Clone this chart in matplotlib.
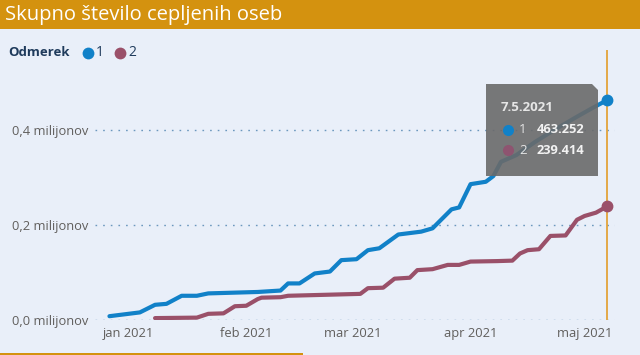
import matplotlib
matplotlib.use('Agg')
import matplotlib.pyplot as plt
import matplotlib.patches as mpatches
from matplotlib.lines import Line2D
import pandas as pd

plt.rcParams['font.family'] = ['Open Sans', 'DejaVu Sans']

# ---- data ----
dose1_dates = ['2020-12-27', '2021-01-04', '2021-01-08', '2021-01-11', '2021-01-15', '2021-01-19',
               '2021-01-22', '2021-02-04', '2021-02-10', '2021-02-12', '2021-02-15', '2021-02-19',
               '2021-02-23', '2021-02-26', '2021-03-02', '2021-03-05', '2021-03-08', '2021-03-13',
               '2021-03-16', '2021-03-19', '2021-03-22', '2021-03-27', '2021-03-29', '2021-04-01',
               '2021-04-05', '2021-04-07', '2021-04-09', '2021-04-13', '2021-04-18', '2021-04-23',
               '2021-04-26', '2021-04-29', '2021-05-03', '2021-05-07']
dose1_vals = [0.008, 0.016, 0.032, 0.034, 0.051, 0.051,
              0.056, 0.059, 0.062, 0.077, 0.077, 0.098,
              0.102, 0.126, 0.128, 0.147, 0.151, 0.180,
              0.183, 0.186, 0.193, 0.233, 0.237, 0.286,
              0.291, 0.303, 0.333, 0.347, 0.375, 0.400,
              0.414, 0.428, 0.446, 0.463252]

dose2_dates = ['2021-01-08', '2021-01-19', '2021-01-22', '2021-01-26', '2021-01-29', '2021-02-01',
               '2021-02-04', '2021-02-05', '2021-02-10', '2021-02-12', '2021-03-03', '2021-03-05',
               '2021-03-09', '2021-03-12', '2021-03-16', '2021-03-18', '2021-03-22', '2021-03-26',
               '2021-03-29', '2021-04-01', '2021-04-08', '2021-04-12', '2021-04-14', '2021-04-16',
               '2021-04-19', '2021-04-22', '2021-04-26', '2021-04-29', '2021-05-01', '2021-05-04',
               '2021-05-07']
dose2_vals = [0.004, 0.005, 0.013, 0.014, 0.029, 0.030,
              0.044, 0.047, 0.048, 0.051, 0.055, 0.067,
              0.068, 0.087, 0.089, 0.105, 0.107, 0.116,
              0.116, 0.123, 0.124, 0.125, 0.140, 0.147,
              0.149, 0.177, 0.178, 0.211, 0.219, 0.226,
              0.239414]

month_ticks = ['2021-01-01', '2021-02-01', '2021-03-01', '2021-04-01', '2021-05-01']
month_labels = ['jan 2021', 'feb 2021', 'mar 2021', 'apr 2021', 'maj 2021']
y_ticks = [0.0, 0.2, 0.4]
y_labels = ['0,0 milijonov', '0,2 milijonov', '0,4 milijonov']

tip_date = '7.5.2021'
tip_rows = [('1', '463.252'), ('2', '239.414')]

# ---- colours ----
bg = '#E9EFF9'
orange = '#D4920F'
blue = '#1181C8'
red = '#9A5069'
grid_c = '#6C98BE'
label_c = '#605E5C'
navy = '#1F3B5C'

W, H = 640, 355


def px(x, y):
    # pixel (from top-left) -> figure fraction
    return x / W, 1 - y / H


def dot(x, y, color, size, z=3):
    fx, fy = px(x, y)
    fig.add_artist(Line2D([fx], [fy], marker='o', markersize=size, color=color,
                          markeredgewidth=0, linestyle='none',
                          transform=fig.transFigure, zorder=z))


fig = plt.figure(figsize=(6.4, 3.55), dpi=100, facecolor=bg)

# title bar
fig.patches.append(mpatches.Rectangle(px(0, 29), 1, 29 / H, transform=fig.transFigure,
                                      facecolor=orange, edgecolor='none', zorder=0))
fig.text(*px(5, 15), 'Skupno število cepljenih oseb', color='white', fontsize=14.5,
         va='center', ha='left')
# bottom accent
fig.patches.append(mpatches.Rectangle(px(0, 355), 303 / W, 2.5 / H, transform=fig.transFigure,
                                      facecolor=orange, edgecolor='none'))

# legend
fig.text(*px(8, 53), 'Odmerek', color=navy, fontsize=9.5, fontweight='bold', va='center')
dot(88, 53, blue, 8.5)
fig.text(*px(96, 53), '1', color=navy, fontsize=10, va='center')
dot(120, 53, red, 8.5)
fig.text(*px(128, 53), '2', color=navy, fontsize=10, va='center')

# main axes
ax = fig.add_axes([95 / W, (H - 320) / H, 520 / W, 270 / H])
ax.set_facecolor(bg)
d1 = pd.to_datetime(dose1_dates)
d2 = pd.to_datetime(dose2_dates)
jan1 = pd.Timestamp('2021-01-01')
ax.set_xlim(jan1 - pd.Timedelta(days=8.8), jan1 + pd.Timedelta(days=128))
ax.set_ylim(0, 270 / 475)

for yv in y_ticks:
    ax.axhline(yv, color=grid_c, linewidth=1.0, linestyle=(0, (1.2, 4.3)), zorder=1)

ax.plot(d1, dose1_vals, color=blue, linewidth=3.0, solid_capstyle='round',
        solid_joinstyle='round', zorder=3)
ax.plot(d2, dose2_vals, color=red, linewidth=3.0, solid_capstyle='round',
        solid_joinstyle='round', zorder=3)

# hover line + end markers
ax.axvline(d1[-1], color='#E3A33A', linewidth=1.3, zorder=2)
ax.plot([d1[-1]], [dose1_vals[-1]], 'o', color=blue, markersize=7.5, zorder=4)
ax.plot([d2[-1]], [dose2_vals[-1]], 'o', color=red, markersize=7.5, zorder=4)

ax.set_xticks(pd.to_datetime(month_ticks))
ax.set_xticklabels(month_labels)
ax.set_yticks(y_ticks)
ax.set_yticklabels(y_labels)
ax.tick_params(length=0, colors=label_c, labelsize=9.3)
ax.tick_params(axis='x', pad=5)
ax.tick_params(axis='y', pad=5)
for s in ax.spines.values():
    s.set_visible(False)

# tooltip
tip = mpatches.Polygon([px(486, 84), px(592, 84), px(598, 90), px(598, 176), px(486, 176)],
                       closed=True, transform=fig.transFigure, facecolor='#6A6A6A',
                       edgecolor='none', alpha=0.9, zorder=5)
fig.add_artist(tip)
fig.text(*px(501, 107), tip_date, color='#E6E6E6', fontsize=9.5, fontweight='bold',
         va='center', zorder=6)
for i, (name, val) in enumerate(tip_rows):
    yy = 130 + 20 * i
    dot(508, yy, [blue, '#8E5470'][i], 8, z=6)
    fig.text(*px(519, yy), name, color='#E6E6E6', fontsize=9.5, va='center', zorder=6)
    fig.text(*px(537, yy), val, color='#F2F2F2', fontsize=9.3, fontweight='bold',
             va='center', zorder=6)

fig.savefig('out.png', dpi=100, facecolor=bg)
